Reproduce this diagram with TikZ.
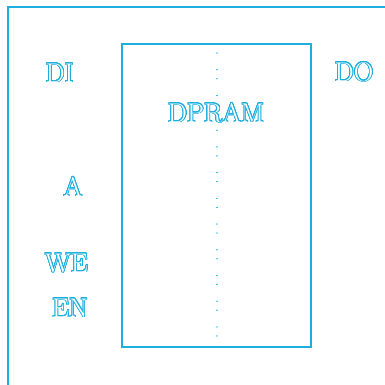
\documentclass[tikz,border=0pt]{standalone}
\usepackage{contour}
\definecolor{ramblue}{RGB}{30,175,222}
\contourlength{0.8pt}
\contournumber{32}
\newcommand{\hollow}[1]{\contour{ramblue}{\textcolor{white}{#1}}}
\tikzset{
    sig/.style={anchor=base,inner sep=0pt,font=\fontsize{27}{27}\selectfont},
    frame/.style={draw=ramblue,line width=1.6pt},
}
\begin{document}
\begin{tikzpicture}[x=1pt,y=-1pt]
    \useasboundingbox (0,0) rectangle (385,384);
    % outer frame, cut by the page
    \coordinate (outbl) at (8,386);
    \coordinate (outtr) at (387,7);
    \draw[frame] (outbl) |- (outtr);
    % memory block
    \coordinate (ramtl) at (122,44);
    \coordinate (rambr) at (311,347);
    \draw[frame] (ramtl) rectangle (rambr);
    \coordinate (dtop) at (217,44);
    \coordinate (dbot) at (217,347);
    \draw[ramblue,line width=1.3pt,line cap=round,dash pattern=on 0.01pt off 9pt on 0.01pt off 16.7pt]
        (dtop) -- (dbot);
    % labels
    \node[sig] (di) at (59.5,82) {\hollow{DI}};
    \node[sig] (do) at (354,81) {\hollow{DO}};
    \node[sig] (ram) at (216,122) {\hollow{DPRAM}};
    \node[sig] (a) at (73,196) {\hollow{A}};
    \node[sig] (we) at (66.5,272) {\hollow{WE}};
    \node[sig] (en) at (70,317) {\hollow{EN}};
\end{tikzpicture}
\end{document}
